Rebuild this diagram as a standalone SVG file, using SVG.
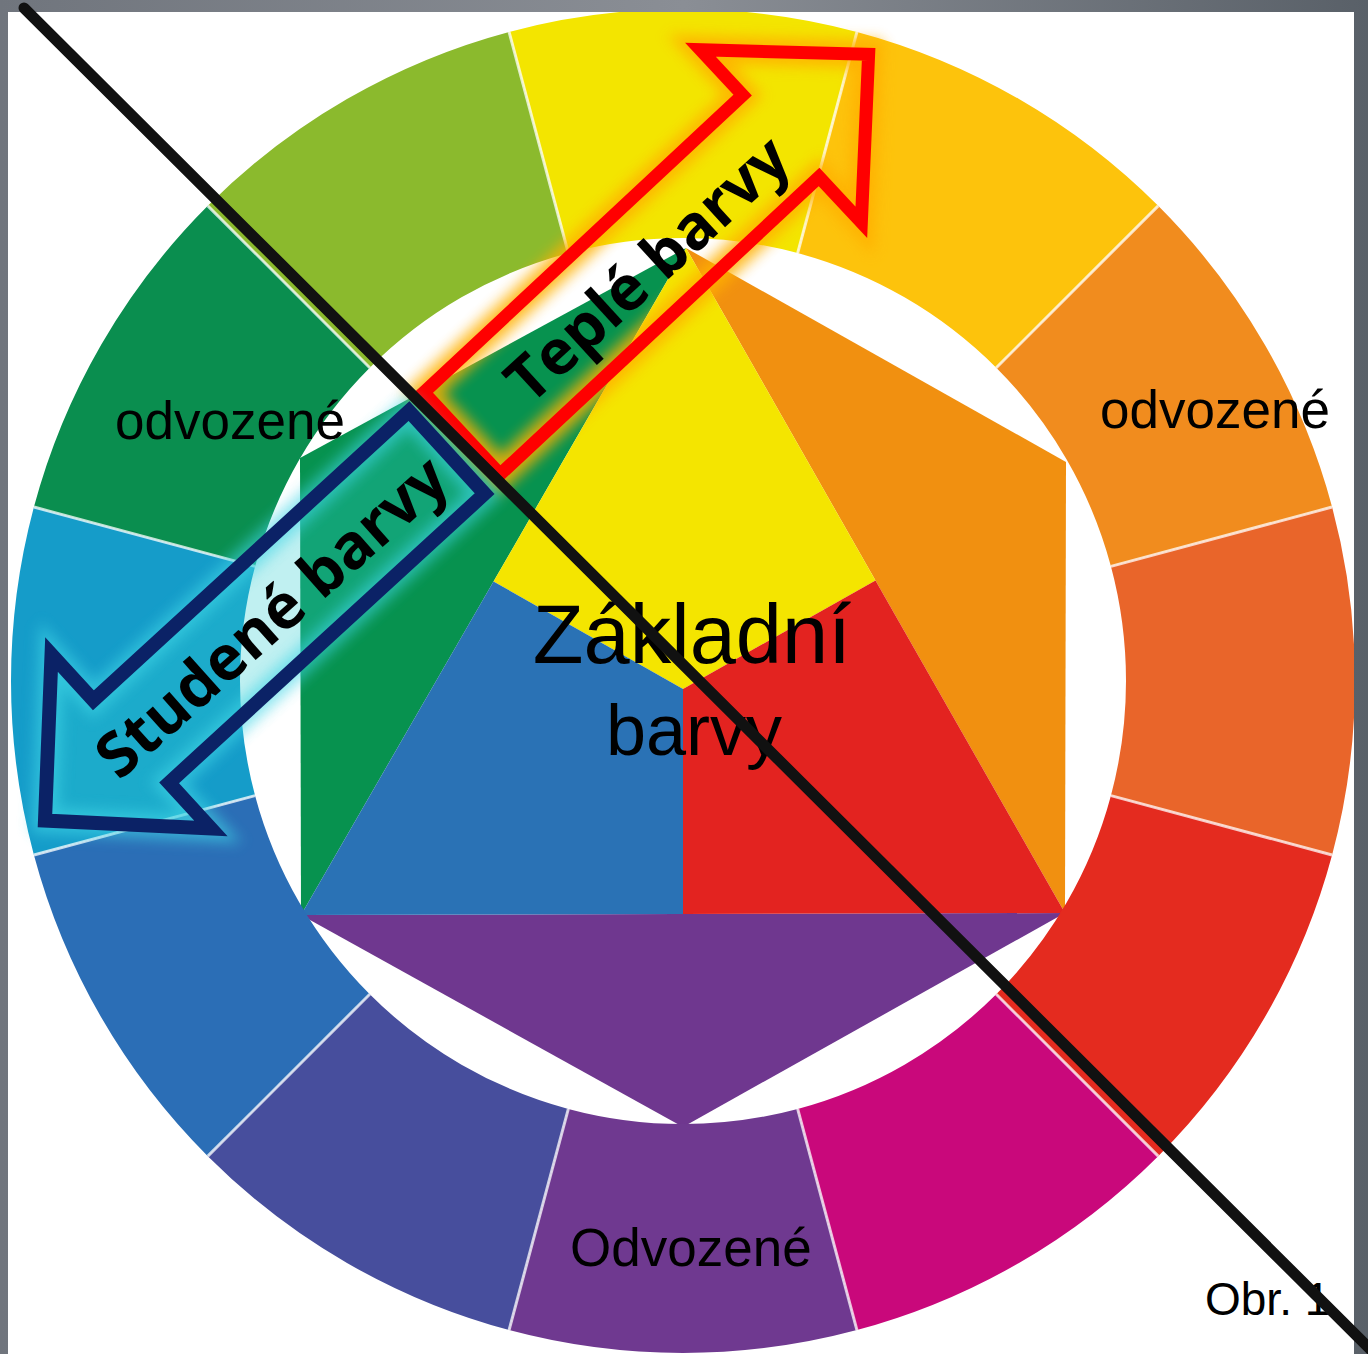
<svg xmlns="http://www.w3.org/2000/svg" width="1368" height="1354" viewBox="0 0 1368 1354">
<style>
.sep{stroke:#ffffff;stroke-opacity:0.75;stroke-width:3}
.lbl{font-family:"Liberation Sans",Arial,sans-serif;fill:#000}
.albl{font-family:"Open Sans","DejaVu Sans",sans-serif;font-weight:700;font-size:62px;fill:#000;text-anchor:middle}
</style>
<defs>
<linearGradient id="frame" x1="0" y1="0" x2="1" y2="0">
<stop offset="0" stop-color="#70757d"/>
<stop offset="0.5" stop-color="#8a8e95"/>
<stop offset="1" stop-color="#596068"/>
</linearGradient>
<clipPath id="page"><rect x="8" y="12" width="1346" height="1342"/></clipPath>
<filter id="blur7" x="-20%" y="-30%" width="140%" height="160%"><feGaussianBlur stdDeviation="7"/></filter>
</defs>
<rect x="0" y="0" width="1368" height="1354" fill="url(#frame)"/>
<rect x="8" y="12" width="1346" height="1342" fill="#ffffff"/>
<g clip-path="url(#page)">
<g id="hexagon">
<polygon id="hex-green" points="301,915 300,458 686,248" fill="#07924F"/>
<polygon id="hex-orange" points="686,248 1066,462 1065,913" fill="#F19010"/>
<polygon id="hex-violet" points="1065,913 683,1127 301,915" fill="#6F378F"/>
<polygon id="primary-yellow" points="686,248 875.5,580.5 683,689 493.5,581.5" fill="#F4E500"/>
<polygon id="primary-red" points="875.5,580.5 1065,913 683,914 683,689" fill="#E32320"/>
<polygon id="primary-blue" points="493.5,581.5 683,689 683,914 301,915" fill="#2A72B5"/>
</g>
<g id="ring">
<path id="seg-yellow" fill="#F3E500" d="M509.07,31.9 A672,672 0 0 1 856.93,31.9 L797.66,253.09 A443,443 0 0 0 568.34,253.09 Z"/>
<path id="seg-yellow-orange" fill="#FDC30C" d="M856.93,31.9 A672,672 0 0 1 1158.18,205.82 L996.25,367.75 A443,443 0 0 0 797.66,253.09 Z"/>
<path id="seg-orange" fill="#F18C1E" d="M1158.18,205.82 A672,672 0 0 1 1332.1,507.07 L1110.91,566.34 A443,443 0 0 0 996.25,367.75 Z"/>
<path id="seg-red-orange" fill="#E9652A" d="M1332.1,507.07 A672,672 0 0 1 1332.1,854.93 L1110.91,795.66 A443,443 0 0 0 1110.91,566.34 Z"/>
<path id="seg-red" fill="#E42B1F" d="M1332.1,854.93 A672,672 0 0 1 1158.18,1156.18 L996.25,994.25 A443,443 0 0 0 1110.91,795.66 Z"/>
<path id="seg-magenta" fill="#C9087B" d="M1158.18,1156.18 A672,672 0 0 1 856.93,1330.1 L797.66,1108.91 A443,443 0 0 0 996.25,994.25 Z"/>
<path id="seg-violet" fill="#6F3990" d="M856.93,1330.1 A672,672 0 0 1 509.07,1330.1 L568.34,1108.91 A443,443 0 0 0 797.66,1108.91 Z"/>
<path id="seg-blue-violet" fill="#474E9D" d="M509.07,1330.1 A672,672 0 0 1 207.82,1156.18 L369.75,994.25 A443,443 0 0 0 568.34,1108.91 Z"/>
<path id="seg-blue" fill="#2B6EB6" d="M207.82,1156.18 A672,672 0 0 1 33.9,854.93 L255.09,795.66 A443,443 0 0 0 369.75,994.25 Z"/>
<path id="seg-cyan" fill="#159CC9" d="M33.9,854.93 A672,672 0 0 1 33.9,507.07 L255.09,566.34 A443,443 0 0 0 255.09,795.66 Z"/>
<path id="seg-green" fill="#0A8E4F" d="M33.9,507.07 A672,672 0 0 1 207.82,205.82 L369.75,367.75 A443,443 0 0 0 255.09,566.34 Z"/>
<path id="seg-yellow-green" fill="#8BBA2D" d="M207.82,205.82 A672,672 0 0 1 509.07,31.9 L568.34,253.09 A443,443 0 0 0 369.75,367.75 Z"/>
<g id="separators">
<line class="sep" x1="568.34" y1="253.09" x2="509.07" y2="31.9"/>
<line class="sep" x1="797.66" y1="253.09" x2="856.93" y2="31.9"/>
<line class="sep" x1="996.25" y1="367.75" x2="1158.18" y2="205.82"/>
<line class="sep" x1="1110.91" y1="566.34" x2="1332.1" y2="507.07"/>
<line class="sep" x1="1110.91" y1="795.66" x2="1332.1" y2="854.93"/>
<line class="sep" x1="996.25" y1="994.25" x2="1158.18" y2="1156.18"/>
<line class="sep" x1="797.66" y1="1108.91" x2="856.93" y2="1330.1"/>
<line class="sep" x1="568.34" y1="1108.91" x2="509.07" y2="1330.1"/>
<line class="sep" x1="369.75" y1="994.25" x2="207.82" y2="1156.18"/>
<line class="sep" x1="255.09" y1="795.66" x2="33.9" y2="854.93"/>
<line class="sep" x1="255.09" y1="566.34" x2="33.9" y2="507.07"/>
<line class="sep" x1="369.75" y1="367.75" x2="207.82" y2="205.82"/>
</g>
</g>
<g id="labels">
<text id="lbl-odvozene-left" class="lbl" x="115" y="439" font-size="53">odvozené</text>
<text id="lbl-odvozene-right" class="lbl" x="1100" y="428" font-size="53">odvozené</text>
<text id="lbl-odvozene-bottom" class="lbl" x="570" y="1266" font-size="53">Odvozené</text>
<text id="lbl-zakladni" class="lbl" x="692" y="663" font-size="83" text-anchor="middle">Základní</text>
<text id="lbl-barvy" class="lbl" x="694" y="755" font-size="72" text-anchor="middle">barvy</text>
<text id="lbl-obr" class="lbl" x="1205" y="1315" font-size="46">Obr. 1</text>
</g>
<g id="warm-arrow">
<g transform="translate(462,433.4) rotate(-43)">
<polygon points="0,-56 436,-56 436,-118 556,0 436,118 436,56 0,56" fill="none" stroke="#FFB000" stroke-width="28" opacity="0.85" filter="url(#blur7)"/>
<polygon points="0,-56 436,-56 436,-118 556,0 436,118 436,56 0,56" fill="none" stroke="#FF0000" stroke-width="13"/>
</g>
<text class="albl" transform="translate(662,285) rotate(-42.5)">Teplé barvy</text>
</g>
<g id="cold-arrow">
<g transform="translate(446.8,452.4) rotate(137.5)">
<polygon points="0,-56 428,-56 428,-118 545,0 428,118 428,56 0,56" fill="#30CCD2" fill-opacity="0.3" stroke="none"/>
<polygon points="0,-56 428,-56 428,-118 545,0 428,118 428,56 0,56" fill="none" stroke="#3FD6E6" stroke-width="26" opacity="0.6" filter="url(#blur7)"/>
<polygon points="0,-56 428,-56 428,-118 545,0 428,118 428,56 0,56" fill="none" stroke="#0B2266" stroke-width="14"/>
</g>
<text class="albl" transform="translate(286,633) rotate(-41.7)">Studené barvy</text>
</g>
</g>
<g id="connectors">
<line id="divider" x1="24" y1="8" x2="1376" y2="1355" stroke="#111111" stroke-width="11" stroke-linecap="round"/>
</g>
</svg>
